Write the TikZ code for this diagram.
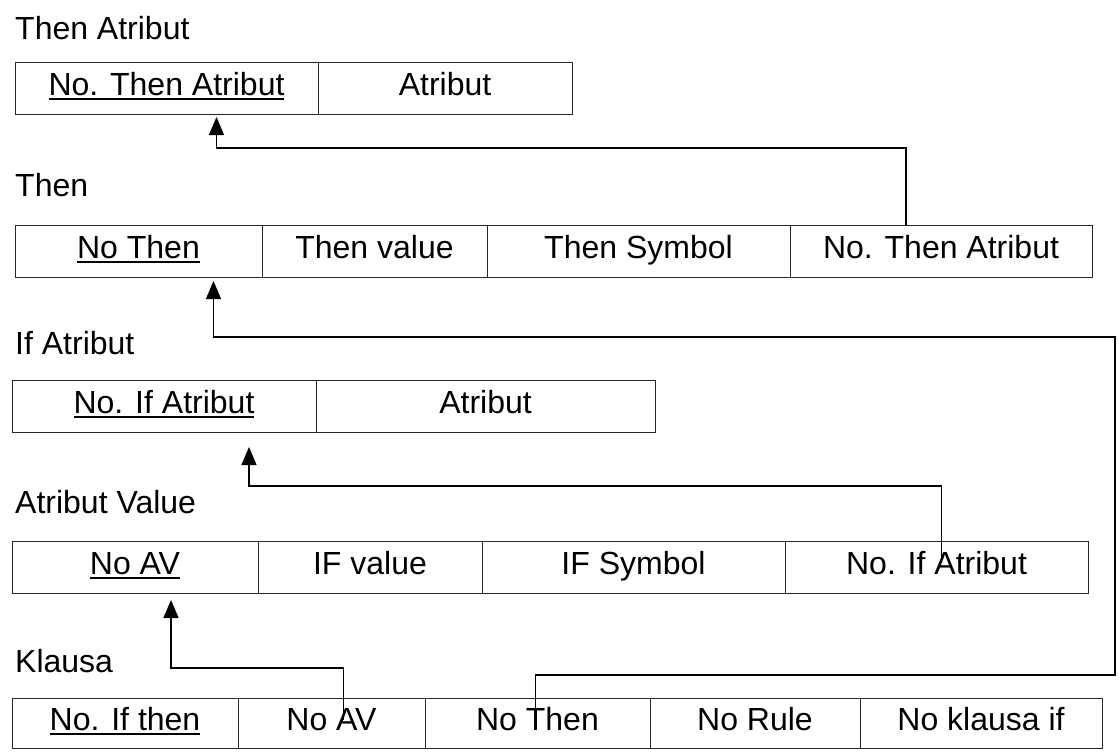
\documentclass[tikz,border=0pt]{standalone}
\usepackage{fontspec}
\setmainfont{Liberation Sans}
\usetikzlibrary{arrows.meta,positioning}
\newcommand{\keyline}[1]{\setbox0\hbox{#1}\rlap{\rule[-4pt]{\wd0}{1.5pt}}\box0}

\begin{document}
\begin{tikzpicture}[x=1pt,y=1pt,
  cell/.style={draw=black!85,line width=0.9pt,inner sep=0pt,outer sep=0pt,
    minimum height=52pt,text height=23pt,text depth=8pt,font=\fontsize{32}{38}\selectfont},
  lbl/.style={anchor=base west,inner sep=0pt,font=\fontsize{32}{38}\selectfont},
  link/.style={line width=1.2pt,-{Triangle[length=18pt,width=15pt]}}]
  \useasboundingbox (0,0) rectangle (1119,-755);

  % Then Atribut
  \node[lbl] (lta) at (15,-39) {Then Atribut};
  \node[cell,minimum width=303pt,anchor=north west] (ta1) at (15,-62) {\keyline{No. Then Atribut}};
  \node[cell,minimum width=254pt,right=0pt of ta1] (ta2) {Atribut};

  % Then
  \node[lbl] (lth) at (15,-196) {Then};
  \node[cell,minimum width=247pt,anchor=north west] (th1) at (15,-225) {\keyline{No Then}};
  \node[cell,minimum width=225pt,right=0pt of th1] (th2) {Then value};
  \node[cell,minimum width=303pt,right=0pt of th2] (th3) {Then Symbol};
  \node[cell,minimum width=302pt,right=0pt of th3] (th4) {No. Then Atribut};

  % If Atribut
  \node[lbl] (lia) at (15,-354) {If Atribut};
  \node[cell,minimum width=304pt,anchor=north west] (ia1) at (12,-380) {\keyline{No. If Atribut}};
  \node[cell,minimum width=339pt,right=0pt of ia1] (ia2) {Atribut};

  % Atribut Value
  \node[lbl] (lav) at (15,-513) {Atribut Value};
  \node[cell,minimum width=246pt,anchor=north west] (av1) at (12,-541) {\keyline{No AV}};
  \node[cell,minimum width=224pt,right=0pt of av1] (av2) {IF value};
  \node[cell,minimum width=303pt,right=0pt of av2] (av3) {IF Symbol};
  \node[cell,minimum width=303pt,right=0pt of av3] (av4) {No. If Atribut};

  % Klausa
  \node[lbl] (lkl) at (15,-672) {Klausa};
  \node[cell,minimum width=226pt,minimum height=50pt,anchor=north west] (kl1) at (12,-698) {\keyline{No. If then}};
  \node[cell,minimum width=187pt,minimum height=50pt,right=0pt of kl1] (kl2) {No AV};
  \node[cell,minimum width=225pt,minimum height=50pt,right=0pt of kl2] (kl3) {No Then};
  \node[cell,minimum width=210pt,minimum height=50pt,right=0pt of kl3] (kl4) {No Rule};
  \node[cell,minimum width=242pt,minimum height=50pt,right=0pt of kl4] (kl5) {No klausa if};

  % Relations
  \coordinate (rbend) at (1115,-337);
  \draw[link,shorten >=3pt] ([xshift=-35pt]th4.north) -- ++(0,77) -| ([xshift=50pt]ta1.south);
  \draw[link,shorten >=4pt] ([xshift=-2pt,yshift=-16pt]kl3.north) -- ++(0,39) -| (rbend) -| ([xshift=75pt]th1.south);
  \draw[link,shorten >=15pt] ([xshift=5pt,yshift=-18pt]av4.north) -- ++(0,73) -| ([xshift=85pt]ia1.south);
  \draw[link,shorten >=7pt] ([xshift=12pt,yshift=-22pt]kl2.north) -- ++(0,52) -| ([xshift=36pt]av1.south);
\end{tikzpicture}
\end{document}
